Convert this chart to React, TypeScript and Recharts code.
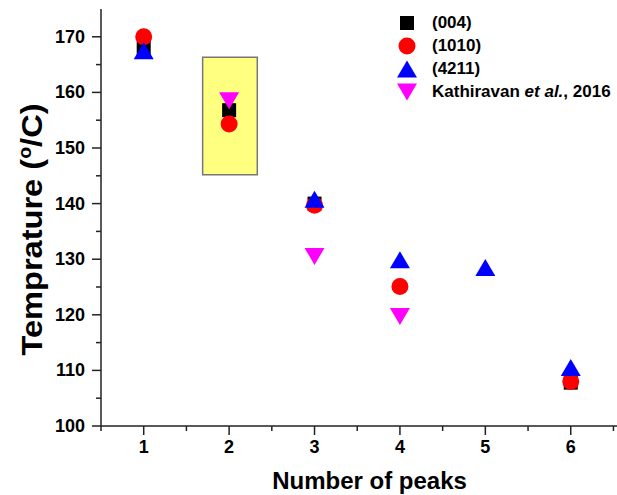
import React from 'react';
import { ScatterChart, Scatter, XAxis, YAxis, ReferenceArea, Legend, Label } from 'recharts';

// ---- data ----
const peaks004 = [1, 2, 3, 6];
const temp004 = [168, 156.8, 140, 107.8];

const peaks1010 = [1, 2, 3, 4, 6];
const temp1010 = [170, 154.3, 139.7, 125.1, 108];

const peaks4211 = [1, 3, 4, 5, 6];
const temp4211 = [167.5, 140.8, 129.9, 128.5, 110.5];

const peaksKath = [2, 3, 4];
const tempKath = [158.5, 130.5, 119.7];

const xTicks = [0.5, 1, 1.5, 2, 2.5, 3, 3.5, 4, 4.5, 5, 5.5, 6, 6.5];
const yTicks = [100, 105, 110, 115, 120, 125, 130, 135, 140, 145, 150, 155, 160, 165, 170];

const highlightX = [1.69, 2.33];
const highlightY = [145.2, 166.3];

const seriesNames = ['(004)', '(1010)', '(4211)'];

const toData = (xs: number[], ys: number[]) => xs.map((x, i) => ({ x, y: ys[i] }));

const data004 = toData(peaks004, temp004);
const data1010 = toData(peaks1010, temp1010);
const data4211 = toData(peaks4211, temp4211);
const dataKath = toData(peaksKath, tempKath);

const FONT = '"Liberation Sans", Arial, sans-serif';
const AXIS = '#222';

// ---- marker shapes ----
const Square = (p: any) => <rect x={p.cx - 7} y={p.cy - 7} width={14} height={14} fill="#000000" />;
const Circle = (p: any) => <circle cx={p.cx} cy={p.cy} r={8.5} fill="#ff0000" />;
const TriUp = (p: any) => (
  <polygon points={`${p.cx - 10},${p.cy + 8.5} ${p.cx + 10},${p.cy + 8.5} ${p.cx},${p.cy - 8.5}`} fill="#0000ff" />
);
const TriDown = (p: any) => (
  <polygon points={`${p.cx - 10},${p.cy - 8.5} ${p.cx + 10},${p.cy - 8.5} ${p.cx},${p.cy + 8.5}`} fill="#ff00ff" />
);

// ---- ticks ----
const XTick = (props: any) => {
  const { x, y, payload } = props;
  const v = payload.value;
  const major = Number.isInteger(v);
  return (
    <g>
      <line x1={x} y1={y} x2={x} y2={y + (major ? 9 : 5)} stroke={AXIS} strokeWidth={1.5} />
      {major && (
        <text x={x} y={y + 21} textAnchor="middle" dominantBaseline="central" fontFamily={FONT} fontWeight="bold" fontSize={18} fill="#000">
          {v}
        </text>
      )}
    </g>
  );
};

const YTick = (props: any) => {
  const { x, y, payload } = props;
  const v = payload.value;
  const major = v % 10 === 0;
  return (
    <g>
      <line x1={x} y1={y} x2={x - (major ? 9 : 5)} y2={y} stroke={AXIS} strokeWidth={1.5} />
      {major && (
        <text x={x - 16} y={y} textAnchor="end" dominantBaseline="central" fontFamily={FONT} fontWeight="bold" fontSize={18} fill="#000">
          {v}
        </text>
      )}
    </g>
  );
};

// ---- legend ----
const legendItems = [
  { icon: <rect x={4} y={3} width={14} height={14} fill="#000" />, label: <>{seriesNames[0]}</> },
  { icon: <circle cx={11} cy={10} r={8.5} fill="#ff0000" />, label: <>{seriesNames[1]}</> },
  { icon: <polygon points="1,18.5 21,18.5 11,1.5" fill="#0000ff" />, label: <>{seriesNames[2]}</> },
  {
    icon: <polygon points="1,1.5 21,1.5 11,18.5" fill="#ff00ff" />,
    label: (
      <>
        Kathiravan <i>et al.</i>, 2016
      </>
    ),
  },
];

const renderLegend = () => (
  <div style={{ fontFamily: FONT, fontWeight: 'bold', fontSize: 17, color: '#000' }}>
    {legendItems.map((it, i) => (
      <div key={i} style={{ display: 'flex', alignItems: 'center', height: 23, whiteSpace: 'nowrap' }}>
        <svg width={22} height={20} style={{ display: 'block' }}>
          {it.icon}
        </svg>
        <span style={{ marginLeft: 14 }}>{it.label}</span>
      </div>
    ))}
  </div>
);

const YTitle = (props: any) => {
  const vb = props.viewBox;
  const cx = vb.x + 42;
  const cy = vb.y + vb.height / 2 + 12;
  return (
    <text
      x={cx}
      y={cy}
      transform={`rotate(-90 ${cx} ${cy})`}
      textAnchor="middle"
      fontFamily={FONT}
      fontWeight="bold"
      fontSize={30}
      fill="#000"
      textLength={252}
      lengthAdjust="spacingAndGlyphs"
    >
      Temprature (
      <tspan fontSize={18} dy={-11}>
        o
      </tspan>
      <tspan dy={11}>/C)</tspan>
    </text>
  );
};

const XTitle = (props: any) => {
  const vb = props.viewBox;
  return (
    <text x={vb.x + vb.width / 2 + 8} y={vb.y + 63} textAnchor="middle" fontFamily={FONT} fontWeight="bold" fontSize={24} fill="#000">
      Number of peaks
    </text>
  );
};

export default function App() {
  return (
    <div style={{ position: 'absolute', left: 0, top: 0, width: 617, height: 495, overflow: 'hidden', background: '#fff' }}>
      <ScatterChart width={630} height={495} margin={{ top: 9, right: 8, bottom: 0, left: 0 }}>
        <XAxis
          dataKey="x"
          type="number"
          domain={[0.5, 6.6]}
          ticks={xTicks}
          interval={0}
          height={69}
          tickSize={0}
          tickMargin={0}
          tickLine={false}
          tick={<XTick />}
          axisLine={{ stroke: AXIS, strokeWidth: 1.5 }}
        >
          <Label content={<XTitle />} />
        </XAxis>
        <XAxis
          xAxisId="top"
          orientation="top"
          type="number"
          domain={[0.5, 6.6]}
          height={0}
          tick={false}
          tickLine={false}
          axisLine={{ stroke: AXIS, strokeWidth: 2 }}
        />
        <YAxis
          dataKey="y"
          type="number"
          domain={[100, 175]}
          ticks={yTicks}
          interval={0}
          width={101}
          tickSize={0}
          tickMargin={0}
          tickLine={false}
          tick={<YTick />}
          axisLine={{ stroke: AXIS, strokeWidth: 1.5 }}
        >
          <Label content={<YTitle />} />
        </YAxis>
        <ReferenceArea
          x1={highlightX[0]}
          x2={highlightX[1]}
          y1={highlightY[0]}
          y2={highlightY[1]}
          fill="#ffff80"
          fillOpacity={1}
          stroke="#777"
          strokeWidth={1.5}
        />
        <Scatter name="(004)" data={data004} shape={Square} isAnimationActive={false} />
        <Scatter name="(1010)" data={data1010} shape={Circle} isAnimationActive={false} />
        <Scatter name="(4211)" data={data4211} shape={TriUp} isAnimationActive={false} />
        <Scatter name="Kathiravan" data={dataKath} shape={TriDown} isAnimationActive={false} />
        <Legend
          layout="vertical"
          align="center"
          verticalAlign="middle"
          content={renderLegend}
          wrapperStyle={{ position: 'absolute', left: 396, top: 11.5, width: 220 }}
        />
      </ScatterChart>
    </div>
  );
}
